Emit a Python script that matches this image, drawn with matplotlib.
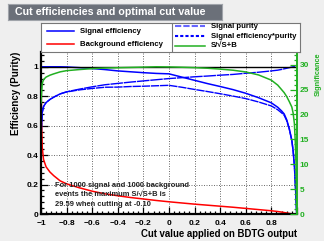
import numpy as np
import matplotlib
matplotlib.use('Agg')
import matplotlib.pyplot as plt
from matplotlib.ticker import MultipleLocator, FuncFormatter
from matplotlib.lines import Line2D

plt.rcParams['font.family'] = ['Liberation Sans', 'DejaVu Sans']
plt.rcParams['font.weight'] = 'bold'

# ---------------------------
# DATA
# ---------------------------
cut = [-1.0, -0.995, -0.99, -0.98, -0.96, -0.93, -0.9, -0.85, -0.8, -0.7, -0.6, -0.5,
       -0.4, -0.3, -0.2, -0.1, 0.0, 0.1, 0.2, 0.3, 0.4, 0.5, 0.6, 0.7, 0.8, 0.85,
       0.88, 0.9, 0.92, 0.94, 0.96, 0.97, 0.98, 0.987, 0.993, 0.998]
sig_eff = [1.0, 1.0, 1.0, 1.0, 1.0, 1.0, 1.0, 1.0, 0.999, 0.994, 0.988, 0.981,
           0.972, 0.966, 0.96, 0.955, 0.952, 0.93, 0.908, 0.886, 0.866, 0.845, 0.82, 0.79, 0.755, 0.725,
           0.70, 0.68, 0.64, 0.58, 0.50, 0.43, 0.33, 0.21, 0.10, 0.0]
bkg_eff = [1.0, 0.62, 0.45, 0.37, 0.32, 0.285, 0.26, 0.225, 0.205, 0.178, 0.155, 0.137,
           0.124, 0.112, 0.102, 0.092, 0.083, 0.075, 0.067, 0.06, 0.053, 0.046, 0.038, 0.03, 0.022, 0.017,
           0.013, 0.01, 0.007, 0.004, 0.001, 0.0, 0.0, 0.0, 0.0, 0.0]
purity = [0.5, 0.62, 0.69, 0.73, 0.757, 0.778, 0.794, 0.816, 0.83, 0.848, 0.864, 0.878,
          0.887, 0.896, 0.904, 0.912, 0.92, 0.926, 0.932, 0.937, 0.943, 0.948, 0.956, 0.963, 0.972, 0.977,
          0.982, 0.986, 0.99, 0.994, 0.998, 1.0, 1.0, 1.0, 1.0, 1.0]
eff_pur = [0.5, 0.62, 0.69, 0.73, 0.757, 0.778, 0.794, 0.816, 0.829, 0.843, 0.853, 0.861,
           0.862, 0.866, 0.868, 0.871, 0.874, 0.861, 0.846, 0.832, 0.817, 0.801, 0.784, 0.761, 0.734, 0.708,
           0.687, 0.671, 0.634, 0.577, 0.499, 0.43, 0.33, 0.21, 0.10, 0.0]
signif = [22.36, 24.5, 26.26, 27.02, 27.52, 27.9, 28.17, 28.57, 28.81, 29.03, 29.22, 29.34,
          29.4, 29.46, 29.52, 29.59, 29.56, 29.5, 29.42, 29.3, 29.12, 28.9, 28.55, 27.95, 26.9, 25.9,
          25.0, 24.4, 23.6, 22.6, 21.5, 20.3, 18.2, 14.5, 10.0, 0.0]

n_sig = 1000
n_bkg = 1000
max_sig = 29.59
best_cut = -0.10

BLUE = '#0000ff'
RED = '#ff0000'
GREEN = '#22b022'
SQRT_LABEL = 'S/\u221aS+B'

# ---------------------------
# FIGURE
# ---------------------------
fig = plt.figure(figsize=(3.24, 2.41), dpi=100, facecolor='#efefef')

ax = fig.add_axes([0.1265, 0.112, 0.79, 0.672])
ax.set_facecolor('white')
ax.set_xlim(-1, 1)
ax.set_ylim(0, 1.1)

ax.plot(cut, bkg_eff, color=RED, lw=1.1)
ax.plot(cut, eff_pur, color=BLUE, lw=1.0, ls=(0, (6, 0.6)))
ax.plot(cut, purity, color=BLUE, lw=1.0, ls=(0, (9, 0.6)))
ax.plot(cut, sig_eff, color=BLUE, lw=1.1)
ax.axhline(1.0, color='black', lw=1.0)

ax.xaxis.set_major_locator(MultipleLocator(0.2))
ax.xaxis.set_minor_locator(MultipleLocator(0.04))
ax.yaxis.set_major_locator(MultipleLocator(0.2))
ax.yaxis.set_minor_locator(MultipleLocator(0.04))
ax.xaxis.set_major_formatter(FuncFormatter(lambda v, p: '' if v > 0.9 else ('%g' % round(v, 2)).replace('-', '\u2212')))
ax.yaxis.set_major_formatter(FuncFormatter(lambda v, p: '' if v > 1.05 else '%g' % round(v, 2)))
ax.grid(True, which='major', color='#555555', ls=(0, (1.2, 1.8)), lw=0.6)
ax.tick_params(which='both', direction='in', top=False, right=False, labelsize=6, width=0.9)
ax.tick_params(axis='x', pad=4)
ax.tick_params(axis='y', pad=2)
ax.tick_params(which='major', length=5)
ax.tick_params(which='minor', length=2.5)
for side in ['left', 'bottom']:
    ax.spines[side].set_linewidth(1.6)
ax.spines['top'].set_visible(False)
ax.spines['right'].set_visible(False)
for lab in ax.get_xticklabels() + ax.get_yticklabels():
    lab.set_fontweight('bold')

ax.set_xlabel('Cut value applied on BDTG output', fontsize=6.9, fontweight='bold', loc='right', labelpad=2)
ax.set_ylabel('Efficiency (Purity)', fontsize=7.0, fontweight='bold', loc='top', labelpad=4)

ax2 = ax.twinx()
ax2.set_ylim(0, 1.1 * max_sig)
ax2.plot(cut, signif, color=GREEN, lw=1.1)
ax2.yaxis.set_major_locator(MultipleLocator(5))
ax2.yaxis.set_minor_locator(MultipleLocator(1))
ax2.tick_params(axis='y', which='both', direction='in', colors=GREEN, labelsize=6, width=0.9, pad=2)
ax2.tick_params(axis='y', which='major', length=5)
ax2.tick_params(axis='y', which='minor', length=2.5)
for sp in ['left', 'top', 'bottom']:
    ax2.spines[sp].set_visible(False)
ax2.spines['right'].set_color(GREEN)
ax2.spines['right'].set_linewidth(1.4)
for lab in ax2.get_yticklabels():
    lab.set_fontweight('bold')
ax2.set_ylabel('Significance', fontsize=5.3, fontweight='bold', color=GREEN, loc='top', labelpad=4)

# info text, one line per row so the spacing stays even
info_lines = ['For %d signal and %d background' % (n_sig, n_bkg),
              'events the maximum %s is' % SQRT_LABEL,
              '%.2f when cutting at %.2f' % (max_sig, best_cut)]
for i, line in enumerate(info_lines):
    ax.text(0.055, 0.179 - i * 0.059, line, transform=ax.transAxes, fontsize=5.4,
            ha='left', va='center', color='#222222')

# legend box
lg = fig.add_axes([0.1256, 0.784, 0.8004, 0.122])
lg.set_xlim(0, 1)
lg.set_ylim(0, 1)
lg.set_xticks([])
lg.set_yticks([])
lg.set_facecolor('white')
for sp in lg.spines.values():
    sp.set_color('#777777')
    sp.set_linewidth(0.8)
lg.axvline(0.507, color='#777777', lw=0.8)
left_items = [('Signal efficiency', BLUE, '-', 0.70), ('Background efficiency', RED, '-', 0.27)]
right_items = [('Signal purity', '#6666ff', (0, (3, 1)), 0.87),
               ('Signal efficiency*purity', BLUE, (0, (1.5, 1)), 0.53),
               (SQRT_LABEL, GREEN, '-', 0.22)]
for name, col, ls, y in left_items:
    lg.add_line(Line2D([0.024, 0.127], [y, y], color=col, ls=ls, lw=1.1))
    lg.text(0.152, y, name, fontsize=5.6, fontweight='bold', va='center', ha='left')
for name, col, ls, y in right_items:
    lg.add_line(Line2D([0.516, 0.633], [y, y], color=col, ls=ls, lw=1.1 if ls == '-' else 1.5))
    lg.text(0.655, y, name, fontsize=5.6, fontweight='bold', va='center', ha='left')

# title box
tb = fig.add_axes([0.0257, 0.917, 0.658, 0.066])
tb.set_xticks([])
tb.set_yticks([])
tb.set_facecolor('#6b7079')
for sp in tb.spines.values():
    sp.set_color('#a0a4aa')
    sp.set_linewidth(0.8)
tb.text(0.03, 0.5, 'Cut efficiencies and optimal cut value', color='white', fontsize=7.7,
        fontweight='bold', ha='left', va='center', transform=tb.transAxes)

fig.savefig('out.png', dpi=100, facecolor=fig.get_facecolor())
